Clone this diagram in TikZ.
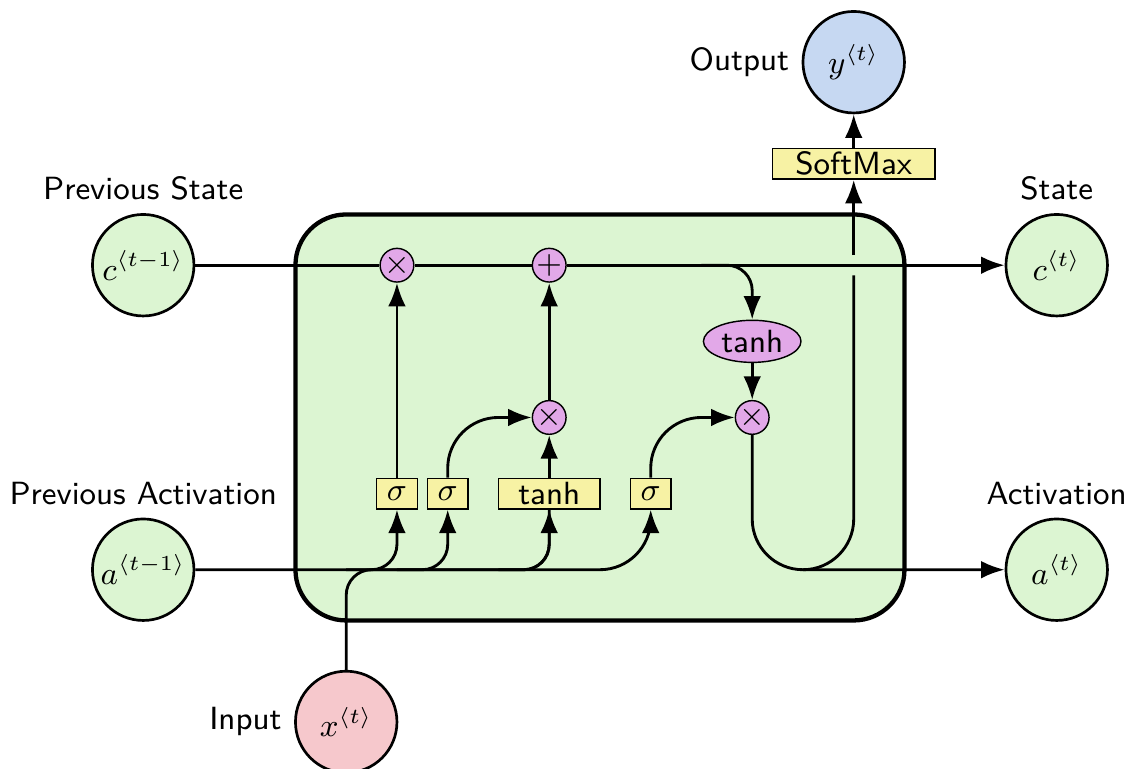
\documentclass[tikz,border=0pt]{standalone}
\usetikzlibrary{shapes,arrows.meta,calc}
\definecolor{cellgreen}{RGB}{220,245,210}
\definecolor{gateyellow}{RGB}{247,242,164}
\definecolor{opviolet}{RGB}{226,168,232}
\definecolor{inpink}{RGB}{246,200,204}
\definecolor{outblue}{RGB}{198,216,242}
\newcommand{\tstep}[2]{${#1}^{\langle #2 \rangle}$}
\tikzset{
  cellbox/.style={rectangle, rounded corners=5mm, draw, very thick, fill=cellgreen},
  opnode/.style={circle, draw, fill=opviolet, inner sep=0pt, minimum size=0.3cm},
  fnnode/.style={ellipse, draw, fill=opviolet, inner sep=1pt},
  extnode/.style={circle, draw, line width=.75pt, minimum width=1cm, inner sep=1pt},
  gatebox/.style={rectangle, draw, fill=gateyellow, minimum width=4mm, minimum height=3mm, inner sep=1pt},
  lbl/.style={font=\small\sffamily},
  wire/.style={rounded corners=.25cm, thick},
  bigwire/.style={rounded corners=.5cm, thick}
}

\begin{document}
\begin{tikzpicture}[font=\small\sffamily, >=Latex]
    \useasboundingbox (-5.911,-3.463) rectangle (5.212,4.113);
    % cell
    \node [cellbox, minimum height=4cm, minimum width=6cm] (cell) at (0,0) {};

    % gates
    \node [gatebox] (forget) at (-2,-0.75) {$\sigma$};
    \node [gatebox] (update) at (-1.5,-0.75) {$\sigma$};
    \node [gatebox, minimum width=1cm] (cand) at (-0.5,-0.75) {tanh};
    \node [gatebox] (outgate) at (0.5,-0.75) {$\sigma$};

    % operators
    \node [opnode] (mulf) at (-2,1.5) {$\times$};
    \node [opnode] (addc) at (-0.5,1.5) {$+$};
    \node [opnode] (mulu) at (-0.5,0) {$\times$};
    \node [opnode] (mulo) at (1.5,0) {$\times$};
    \node [fnnode] (tanhc) at (1.5,0.75) {tanh};

    % inputs and outputs
    \node [extnode, fill=cellgreen, label={[lbl]Previous State}] (cprev) at (-4.5,1.5) {\tstep{c}{t-1}};
    \node [extnode, fill=cellgreen, label={[lbl]Previous Activation}] (aprev) at (-4.5,-1.5) {\tstep{a}{t-1}};
    \node [extnode, fill=inpink, label={[lbl]left:Input}] (xin) at (-2.5,-3) {\tstep{x}{t}};
    \node [extnode, fill=cellgreen, label={[lbl]State}] (cnext) at (4.5,1.5) {\tstep{c}{t}};
    \node [extnode, fill=cellgreen, label={[lbl]Activation}] (anext) at (4.5,-1.5) {\tstep{a}{t}};
    \node [extnode, fill=outblue, label={[lbl]left:Output}] (yout) at (2.5,3.5) {\tstep{y}{t}};
    \node [gatebox, minimum width=1.6cm] (smax) at (2.5,2.5) {SoftMax};

    \coordinate (fsplit) at ($(aprev -| forget)+(-0.5,0)$);
    \coordinate (usplit) at ($(aprev -| update)+(-0.5,0)$);
    \coordinate (csplit) at ($(aprev -| cand)+(-0.5,0)$);
    \coordinate (tsplit) at ($(addc -| tanhc)+(-0.5,0)$);
    \coordinate (ysplit) at ($(anext -| yout)+(-0.5,0)$);
    \coordinate (ybelow) at ($(cnext -| yout)+(0,-0.1)$);
    \coordinate (yabove) at ($(cnext -| yout)+(0,0.1)$);

    % state line
    \draw [->, thick] (cprev) -- (mulf) -- (addc) -- (cnext);

    % activation and input
    \draw [->, bigwire] (aprev) -| (outgate);
    \draw [->, wire] (fsplit) -| (forget);
    \draw [->, wire] (usplit) -| (update);
    \draw [->, wire] (csplit) -| (cand);
    \draw [wire] (xin) -- (xin |- aprev) -| (cand);

    % inside the cell
    \draw [->, bigwire] (forget) -- (mulf);
    \draw [->, bigwire] (update) |- (mulu);
    \draw [->, bigwire] (cand) -- (mulu);
    \draw [->, bigwire] (outgate) |- (mulo);
    \draw [->, bigwire] (mulu) -- (addc);
    \draw [->, wire] (tsplit) -| (tanhc);
    \draw [->, bigwire] (tanhc) -- (mulo);

    % outputs
    \draw [->, bigwire] (mulo) |- (anext);
    \draw [bigwire] (ysplit) -| (ybelow);
    \draw [->, thick] (yabove) -- (smax);
    \draw [->, thick] (smax) -- (yout);
\end{tikzpicture}
\end{document}
